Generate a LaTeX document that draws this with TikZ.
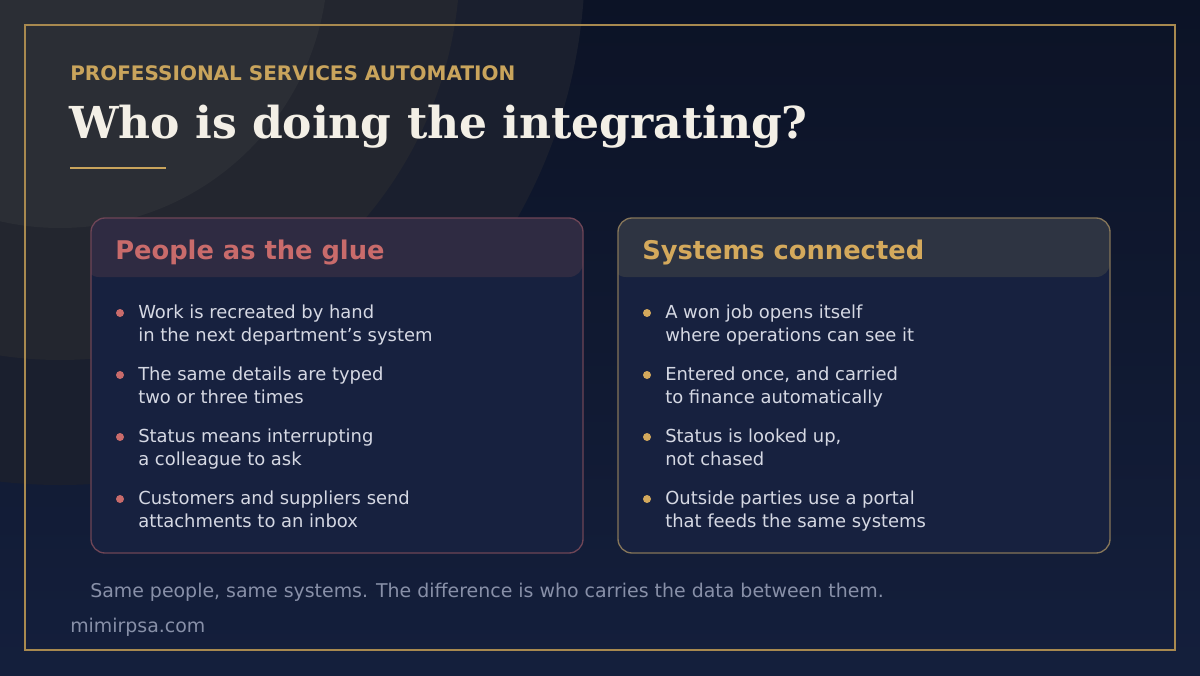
\documentclass[tikz,border=0pt]{standalone}
\usepackage{fontspec}
\setmainfont{DejaVu Sans}
\newfontfamily\serifbf{DejaVu Serif}
\definecolor{bgtop}{HTML}{0C1326}
\definecolor{bgbot}{HTML}{141F3C}
\definecolor{cA}{HTML}{2B2E35}
\definecolor{cB}{HTML}{23262F}
\definecolor{cC}{HTML}{1A1F2E}
\definecolor{gold}{HTML}{A8894F}
\definecolor{goldtxt}{HTML}{C9A45C}
\definecolor{titletxt}{HTML}{F3EFE6}
\definecolor{cardfill}{HTML}{17213F}
\definecolor{redbd}{HTML}{6E4556}
\definecolor{redhd}{HTML}{2F2B42}
\definecolor{redtxt}{HTML}{C96B6B}
\definecolor{goldbd}{HTML}{857559}
\definecolor{goldhd}{HTML}{2E3442}
\definecolor{goldhdtxt}{HTML}{D4A95C}
\definecolor{body}{HTML}{D5D8E3}
\definecolor{foot}{HTML}{8890A8}
\tikzset{
 item/.style={anchor=north west,inner sep=0pt,text=body,font=\fontsize{13.45}{17.3}\selectfont,align=left},
 hd/.style={anchor=base west,inner sep=0pt,font=\fontsize{19.3}{22}\selectfont\bfseries},
}
\begin{document}
\begin{tikzpicture}[x=0.75pt,y=-0.75pt]
\useasboundingbox (0,0) rectangle (1200,675);
\shade[top color=bgtop,bottom color=bgbot] (0,0) rectangle (1200,675);
\begin{scope}
\clip (0,0) rectangle (1200,675);
\fill[cC] (60,-40) circle[radius=525];
\fill[cB] (60,-40) circle[radius=400];
\fill[cA] (60,-40) circle[radius=268];
\end{scope}
\draw[gold,line width=2.2pt] (25,25) rectangle (1175,650);
\node[anchor=base west,inner sep=0pt,text=goldtxt,font=\fontsize{15}{16}\selectfont\bfseries] (kicker) at (70,80) {PROFESSIONAL SERVICES AUTOMATION};
\node[anchor=base west,inner sep=0pt,text=titletxt,font=\serifbf\fontsize{33}{38}\selectfont\bfseries] (title) at (69,138) {Who is doing the integrating?};
\draw[goldtxt,line width=2.2pt] (70,168) -- (166,168);
% left card
\begin{scope}
\clip[rounded corners=10.5pt] (91,218) rectangle (583,553);
\fill[cardfill] (91,218) rectangle (583,553);
\fill[redhd,rounded corners=10.5pt] (85,210) rectangle (583,277);
\fill[redhd] (85,210) rectangle (583,260);
\end{scope}
\draw[redbd,line width=1pt,rounded corners=10.5pt] (91,218) rectangle (583,553);
\node[hd,text=redtxt] (lh) at (115,259) {People as the glue};
% right card
\begin{scope}
\clip[rounded corners=10.5pt] (618,218) rectangle (1110,553);
\fill[cardfill] (618,218) rectangle (1110,553);
\fill[goldhd,rounded corners=10.5pt] (612,210) rectangle (1110,277);
\fill[goldhd] (612,210) rectangle (1110,260);
\end{scope}
\draw[goldbd,line width=1pt,rounded corners=10.5pt] (618,218) rectangle (1110,553);
\node[hd,text=goldhdtxt] (rh) at (642,259) {Systems connected};
% items
\foreach \i/\t in {0/{Work is recreated by hand\\in the next department’s system},1/{The same details are typed\\two or three times},2/{Status means interrupting\\a colleague to ask},3/{Customers and suppliers send\\attachments to an inbox}}{
 \fill[redtxt] (120,313+62*\i) circle[radius=4];
 \node[item] at (138,305+62*\i) {\t};
}
\foreach \i/\t in {0/{A won job opens itself\\where operations can see it},1/{Entered once, and carried\\to finance automatically},2/{Status is looked up,\\not chased},3/{Outside parties use a portal\\that feeds the same systems}}{
 \fill[goldhdtxt] (647,313+62*\i) circle[radius=4];
 \node[item] at (665,305+62*\i) {\t};
}
\node[anchor=base west,inner sep=0pt,text=foot,font=\fontsize{14.2}{16}\selectfont] (note) at (90,597) {Same people, same systems. The difference is who carries the data between them.};
\node[anchor=base west,inner sep=0pt,text=foot,font=\fontsize{14.2}{16}\selectfont] (site) at (70,632) {mimirpsa.com};
\end{tikzpicture}
\end{document}
